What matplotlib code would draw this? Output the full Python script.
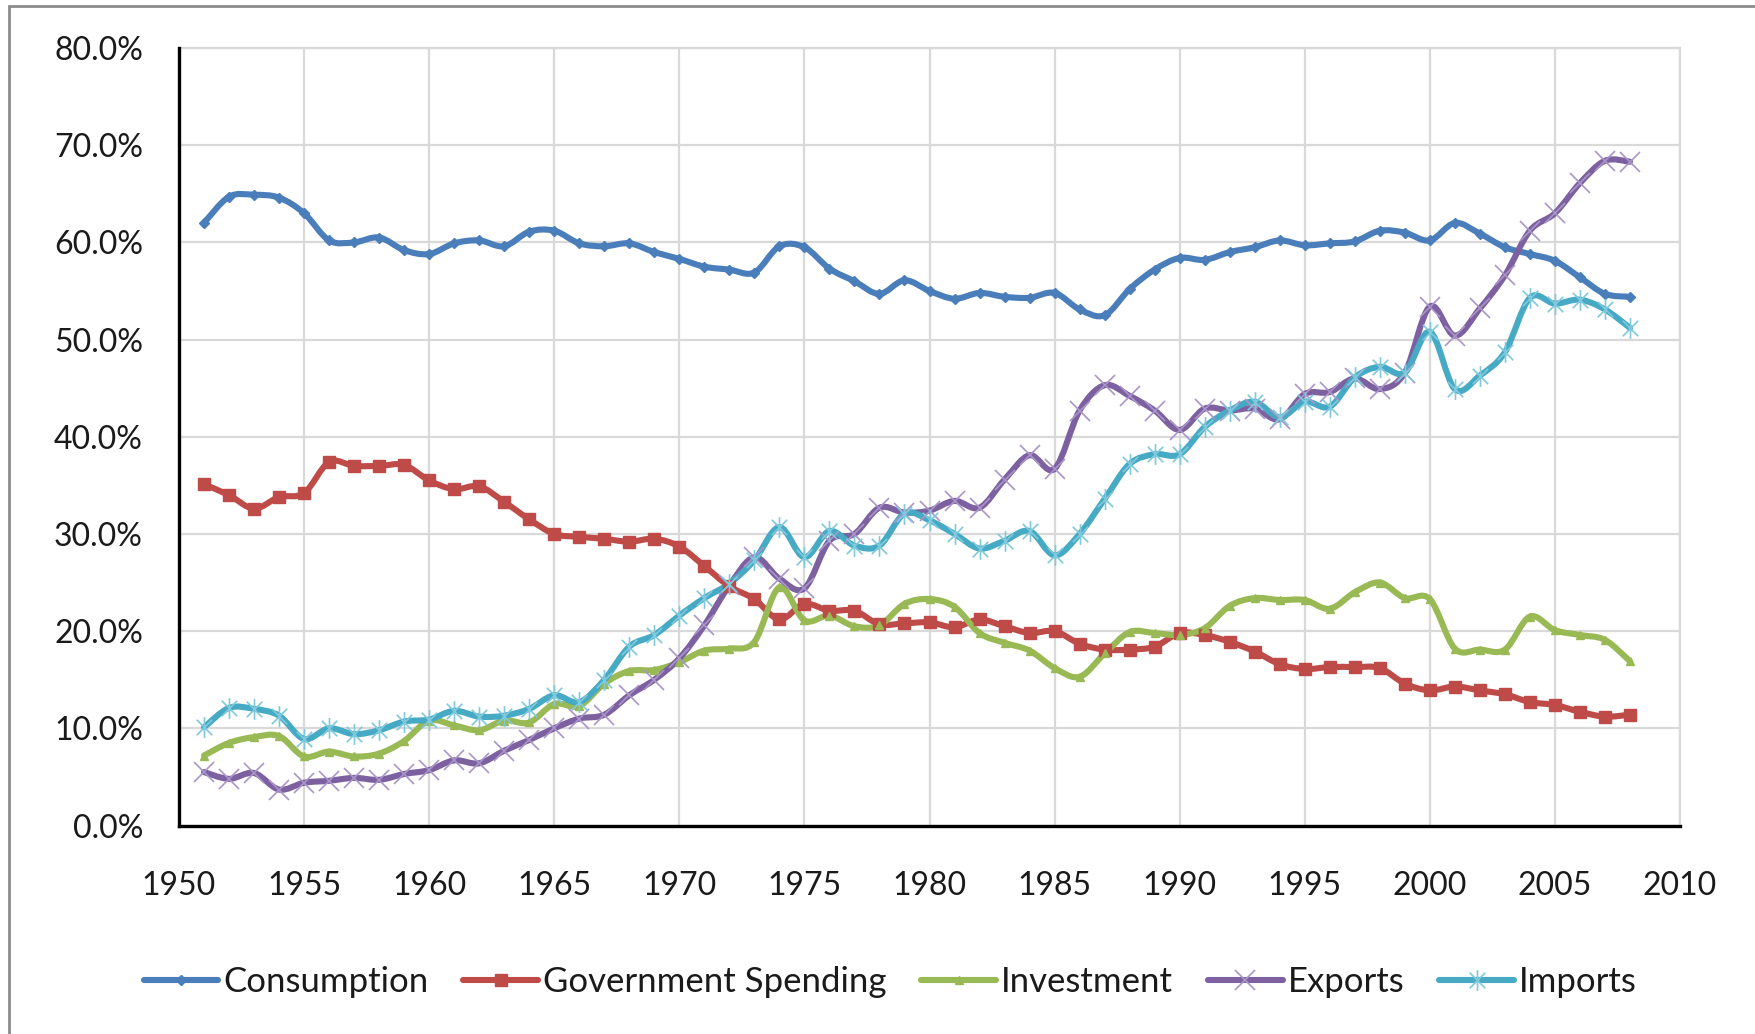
import matplotlib
matplotlib.use('Agg')
import matplotlib.pyplot as plt
from matplotlib.path import Path
from matplotlib.patches import PathPatch, Rectangle
from matplotlib.lines import Line2D
from matplotlib.ticker import FuncFormatter, MultipleLocator
import numpy as np

plt.rcParams['font.family'] = ['Lato', 'DejaVu Sans']

years = list(range(1951, 2009))

consumption = [62.0, 64.7, 64.9, 64.6, 63.0, 60.2, 60.0, 60.5, 59.2, 58.8,
               59.9, 60.2, 59.6, 61.1, 61.2, 59.9, 59.6, 59.9, 59.0, 58.3,
               57.5, 57.2, 56.9, 59.6, 59.5, 57.3, 56.0, 54.7, 56.1, 55.0,
               54.2, 54.8, 54.4, 54.3, 54.8, 53.1, 52.5, 55.2, 57.2, 58.4,
               58.2, 59.0, 59.5, 60.2, 59.7, 59.9, 60.1, 61.2, 61.0, 60.2,
               62.0, 60.9, 59.5, 58.8, 58.1, 56.4, 54.7, 54.4]
government = [35.1, 34.0, 32.6, 33.8, 34.2, 37.4, 37.0, 37.0, 37.1, 35.5,
              34.6, 34.9, 33.3, 31.5, 30.0, 29.7, 29.5, 29.2, 29.5, 28.7,
              26.7, 24.6, 23.3, 21.2, 22.8, 22.1, 22.1, 20.7, 20.8, 20.9,
              20.4, 21.2, 20.5, 19.8, 20.0, 18.7, 18.1, 18.1, 18.4, 19.8,
              19.6, 18.9, 17.9, 16.6, 16.1, 16.3, 16.3, 16.2, 14.6, 13.9,
              14.3, 13.9, 13.5, 12.7, 12.4, 11.7, 11.2, 11.4]
investment = [7.2, 8.5, 9.1, 9.2, 7.1, 7.6, 7.1, 7.4, 8.7, 10.8,
              10.3, 9.8, 10.8, 10.6, 12.5, 12.3, 14.6, 15.9, 16.0, 16.8,
              18.0, 18.2, 18.9, 24.5, 21.1, 21.6, 20.5, 20.6, 22.8, 23.3,
              22.5, 19.8, 18.8, 18.0, 16.2, 15.3, 17.7, 19.9, 19.8, 19.6,
              20.3, 22.6, 23.4, 23.2, 23.2, 22.3, 24.0, 25.0, 23.4, 23.3,
              18.2, 18.1, 18.1, 21.5, 20.1, 19.6, 19.1, 16.9]
exports = [5.5, 4.8, 5.4, 3.7, 4.4, 4.6, 4.9, 4.7, 5.3, 5.7,
           6.7, 6.4, 7.7, 8.8, 10.0, 11.0, 11.4, 13.4, 15.0, 17.2,
           20.6, 24.7, 27.6, 25.4, 24.4, 29.3, 30.0, 32.7, 32.2, 32.4,
           33.4, 32.7, 35.6, 38.1, 36.7, 42.7, 45.3, 44.2, 42.7, 40.7,
           42.9, 42.7, 42.9, 41.8, 44.4, 44.6, 46.0, 44.9, 46.6, 53.4,
           50.4, 53.2, 56.6, 61.2, 63.0, 66.1, 68.4, 68.3]
imports = [10.1, 12.1, 12.0, 11.3, 8.9, 10.0, 9.4, 9.8, 10.7, 10.9,
           11.8, 11.2, 11.3, 12.0, 13.4, 12.7, 15.0, 18.4, 19.6, 21.6,
           23.4, 24.9, 27.3, 30.7, 27.6, 30.3, 28.8, 28.8, 32.1, 31.4,
           30.0, 28.5, 29.3, 30.3, 27.8, 30.0, 33.6, 37.2, 38.2, 38.2,
           41.0, 42.7, 43.6, 42.0, 43.6, 43.1, 46.1, 47.2, 46.6, 50.8,
           44.9, 46.3, 48.7, 54.3, 53.7, 54.1, 53.1, 51.2]

series_names = ['Consumption', 'Government Spending', 'Investment', 'Exports', 'Imports']
x_ticks = [1950, 1955, 1960, 1965, 1970, 1975, 1980, 1985, 1990, 1995, 2000, 2005, 2010]

# styles
star = Path([(-1, -1), (1, 1), (-1, 1), (1, -1), (0, -1.35), (0, 1.35)],
            [Path.MOVETO, Path.LINETO, Path.MOVETO, Path.LINETO, Path.MOVETO, Path.LINETO])
styles = [
    dict(color='#4A7EBB', marker='D', ms=5, mfc='#4A7EBB', mec='#4A7EBB', mew=1),
    dict(color='#BE4B48', marker='s', ms=8, mfc='#BE4B48', mec='#BE4B48', mew=1),
    dict(color='#98B954', marker='^', ms=6, mfc='#98B954', mec='#98B954', mew=1),
    dict(color='#7D60A0', marker='x', ms=14, mfc='none', mec='#A995C8', mew=1.2),
    dict(color='#46AAC5', marker=star, ms=15, mfc='none', mec='#7FC9DC', mew=1.2),
]


def smooth_path(x, y):
    n = len(x)
    verts = [(x[0], y[0])]
    codes = [Path.MOVETO]
    for i in range(n - 1):
        x0, y0 = (x[i - 1], y[i - 1]) if i > 0 else (x[i], y[i])
        x3, y3 = (x[i + 2], y[i + 2]) if i + 2 < n else (x[i + 1], y[i + 1])
        c1 = (x[i] + (x[i + 1] - x0) / 6.0, y[i] + (y[i + 1] - y0) / 6.0)
        c2 = (x[i + 1] - (x3 - x[i]) / 6.0, y[i + 1] - (y3 - y[i]) / 6.0)
        verts += [c1, c2, (x[i + 1], y[i + 1])]
        codes += [Path.CURVE4] * 3
    return Path(verts, codes)


W, H = 1756, 1034
fig = plt.figure(figsize=(W / 100, H / 100), dpi=100)
fig.patch.set_facecolor('white')

# outer chart border
fig.patches.append(Rectangle((9 / W, -0.5), 2.0, 1 - 6 / H + 0.5, transform=fig.transFigure,
                             fill=False, edgecolor='#8C8C8C', lw=2, zorder=0))

left, right, top, bottom = 179, 1680, 48, 825.5
ax = fig.add_axes([left / W, 1 - bottom / H, (right - left) / W, (bottom - top) / H])

all_series = [consumption, government, investment, exports, imports]
handles = []
for name, vals, st in zip(series_names, all_series, styles):
    p = PathPatch(smooth_path(years, vals), fill=False, edgecolor=st['color'], lw=4.4,
                  capstyle='round', joinstyle='round', zorder=3)
    ax.add_patch(p)
    ax.plot(years, vals, linestyle='none', marker=st['marker'], ms=st['ms'],
            mfc=st['mfc'], mec=st['mec'], mew=st['mew'], zorder=4, clip_on=False)
    handles.append(Line2D([], [], color=st['color'], lw=4.4, marker=st['marker'],
                          ms=st['ms'], mfc=st['mfc'], mec=st['mec'], mew=st['mew'],
                          solid_capstyle='round'))

ax.set_xlim(1950, 2010)
ax.set_ylim(0, 80)
ax.set_xticks(x_ticks)
ax.yaxis.set_major_locator(MultipleLocator(10))
ax.yaxis.set_major_formatter(FuncFormatter(lambda v, p: f"{v:.1f}%"))
ax.grid(True, color='#D9D9D9', lw=1.6, zorder=0)
ax.set_axisbelow(True)
for s in ['top', 'right']:
    ax.spines[s].set_color('#D9D9D9')
    ax.spines[s].set_linewidth(1.6)
for s in ['left', 'bottom']:
    ax.spines[s].set_color('black')
    ax.spines[s].set_linewidth(2.4)
    ax.spines[s].set_zorder(5)
ax.tick_params(axis='both', length=0, labelsize=23, colors='#1A1A1A')
ax.tick_params(axis='x', pad=32.5)
ax.tick_params(axis='y', pad=26)

fig.legend(handles, series_names, loc='center', bbox_to_anchor=(0.507, 0.05), ncol=5,
           frameon=False, fontsize=25, handlelength=2.15, handletextpad=0.15,
           columnspacing=1.0, labelcolor='#1A1A1A')

fig.savefig('out.png', dpi=100, facecolor='white')
